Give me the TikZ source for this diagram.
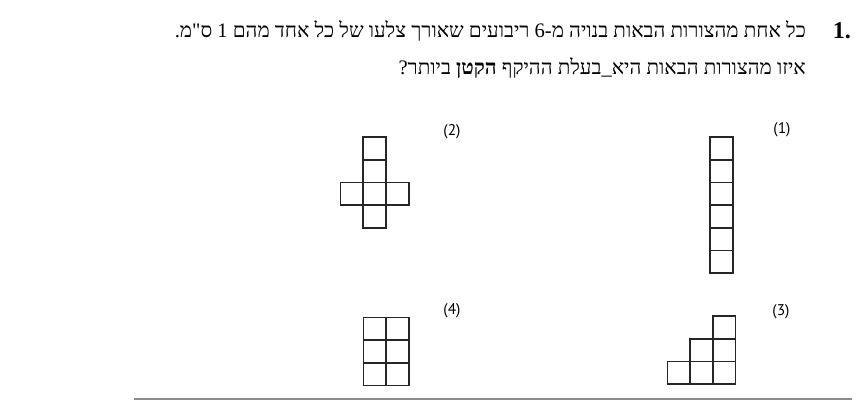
\documentclass[tikz,border=0pt]{standalone}
\usepackage{fontspec}
\setmainfont{Liberation Serif}
\newfontfamily\hebfont[Script=Hebrew]{Liberation Serif}
\newfontfamily\labfont{PT Sans}
\TeXXeTstate=1
\tikzset{
  cell/.style={draw=black!85, line width=1.7pt},
  heb/.style={font=\fontsize{20.6}{24}\hebfont, inner sep=0pt},
  lab/.style={font=\fontsize{15.5}{17}\labfont, inner sep=0pt},
  rule/.style={draw=black!45, line width=1.6pt}
}
\begin{document}
\begin{tikzpicture}[x=1pt,y=-1pt]
\useasboundingbox (0,0) rectangle (862,400);
\def\s{22.7}
% texts
\node[font=\fontsize{24}{26}\bfseries\selectfont, inner sep=0pt, anchor=base east] (num) at (851,38) {1.};
\node[heb, anchor=base east] (l1) at (806,37) {\beginR כל אחת מהצורות הבאות בנויה מ-6 ריבועים שאורך צלעו של כל אחד מהם 1 ס"מ.\endR};
\node[heb, anchor=base east] (l2) at (806,74) {\beginR איזו מהצורות הבאות היא\_בעלת ההיקף \textbf{הקטן} ביותר?\endR};
% labels
\node[lab] (t1) at (782,130) {(1)};
\node[lab] (t2) at (452,132) {(2)};
\node[lab] (t3) at (781,312) {(3)};
\node[lab] (t4) at (452,311) {(4)};
% shape 1: column of 6
\foreach \i in {0,...,5} \draw[cell] (710,137+\i*\s) rectangle ++(\s,\s);
% shape 2: cross
\draw[cell] (363.3,137) rectangle ++(\s,\s);
\draw[cell] (363.3,137+\s) rectangle ++(\s,\s);
\draw[cell] (363.3-\s,137+2*\s) rectangle ++(\s,\s);
\draw[cell] (363.3,137+2*\s) rectangle ++(\s,\s);
\draw[cell] (363.3+\s,137+2*\s) rectangle ++(\s,\s);
\draw[cell] (363.3,137+3*\s) rectangle ++(\s,\s);
% shape 3: staircase
\foreach \i in {0,1,2} \draw[cell] (667.5+\i*\s,361.5) rectangle ++(\s,\s);
\foreach \i in {1,2} \draw[cell] (667.5+\i*\s,361.5-\s) rectangle ++(\s,\s);
\draw[cell] (667.5+2*\s,361.5-2*\s) rectangle ++(\s,\s);
% shape 4: 2x3
\foreach \i in {0,1} \foreach \j in {0,1,2} \draw[cell] (363.5+\i*\s,317.5+\j*\s) rectangle ++(\s,\s);
% bottom rule
\coordinate (r1) at (134,399);
\coordinate (r2) at (852,399);
\draw[rule] (r1) -- (r2);
\end{tikzpicture}
\end{document}
